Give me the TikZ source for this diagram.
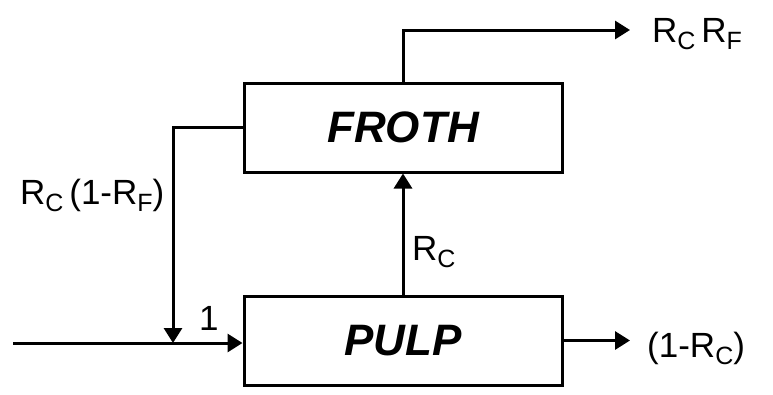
\documentclass[tikz,border=0pt]{standalone}
\usepackage{fontspec}
\setmainfont{Liberation Sans}
\usetikzlibrary{arrows.meta}
\newcommand{\sub}[1]{\raisebox{-7pt}{\fontsize{25}{25}\selectfont #1}}
\tikzset{
  box/.style={draw, line width=3pt, minimum width=318pt, minimum height=89pt, inner sep=0pt,
              font=\fontsize{44}{50}\selectfont\bfseries\itshape},
  conn/.style={line width=3pt},
  arr/.style={conn, -{Triangle[length=15pt,width=18pt]}},
  lbl/.style={inner sep=0pt, anchor=base west, font=\fontsize{35}{40}\selectfont},
}
\begin{document}
\begin{tikzpicture}[x=1pt,y=-1pt]
\useasboundingbox[fill=white] (0,0) rectangle (773,394);
\node[box] (froth) at (403,127.5) {FROTH\hspace{30pt}};
\node[box] (pulp) at (403,340.5) {PULP\hspace{6pt}};
\coordinate (in) at (13,343);
\coordinate (jn) at (173,343);
\coordinate (topout) at (630,30);
\coordinate (pout) at (630,340.5);
\draw[conn] (in) -- (jn);
\draw[arr] (jn) -- (jn -| pulp.west);
\draw[arr] (pulp.north) -- (froth.south);
\draw[arr] (froth.north) |- (topout);
\draw[arr] (froth.west) -| (jn);
\draw[arr] (pulp.east) -- (pout);
\node[lbl] (lrcrf) at (652,42) {R\sub{C}\,R\sub{F}};
\node[lbl] (lrecycle) at (20,204) {R\sub{C}\,(1-R\sub{F})};
\node[lbl] (lone) at (199,330) {1};
\node[lbl] (lrc) at (412,260) {R\sub{C}};
\node[lbl] (ltail) at (647,357) {(1-R\sub{C})};
\end{tikzpicture}
\end{document}
